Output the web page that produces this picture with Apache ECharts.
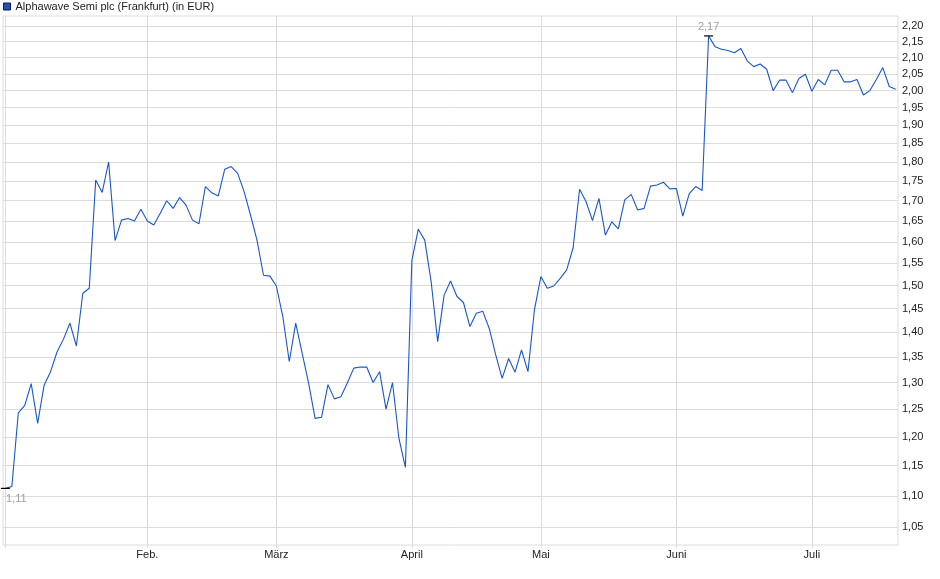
<!DOCTYPE html>
<html>
<head>
<meta charset="utf-8">
<script src="https://cdn.jsdelivr.net/npm/echarts@6/dist/echarts.min.js"></script>
<style>
  html, body { margin: 0; padding: 0; background: #fff; }
  #chart { width: 940px; height: 579px; }
</style>
</head>
<body>
<div id="chart"></div>
<script>
// Trading days (Frankfurt), 2025
const dates = [
  '2025-01-02','2025-01-03','2025-01-06','2025-01-07','2025-01-08','2025-01-09','2025-01-10','2025-01-13','2025-01-14','2025-01-15','2025-01-16','2025-01-17','2025-01-20','2025-01-21','2025-01-22','2025-01-23','2025-01-24','2025-01-27','2025-01-28','2025-01-29','2025-01-30','2025-01-31',
  '2025-02-03','2025-02-04','2025-02-05','2025-02-06','2025-02-07','2025-02-10','2025-02-11','2025-02-12','2025-02-13','2025-02-14','2025-02-17','2025-02-18','2025-02-19','2025-02-20','2025-02-21','2025-02-24','2025-02-25','2025-02-26','2025-02-27','2025-02-28',
  '2025-03-03','2025-03-04','2025-03-05','2025-03-06','2025-03-07','2025-03-10','2025-03-11','2025-03-12','2025-03-13','2025-03-14','2025-03-17','2025-03-18','2025-03-19','2025-03-20','2025-03-21','2025-03-24','2025-03-25','2025-03-26','2025-03-27','2025-03-28','2025-03-31',
  '2025-04-01','2025-04-02','2025-04-03','2025-04-04','2025-04-07','2025-04-08','2025-04-09','2025-04-10','2025-04-11','2025-04-14','2025-04-15','2025-04-16','2025-04-17','2025-04-22','2025-04-23','2025-04-24','2025-04-25','2025-04-28','2025-04-29','2025-04-30',
  '2025-05-02','2025-05-05','2025-05-06','2025-05-07','2025-05-08','2025-05-09','2025-05-12','2025-05-13','2025-05-14','2025-05-15','2025-05-16','2025-05-19','2025-05-20','2025-05-21','2025-05-22','2025-05-23','2025-05-26','2025-05-27','2025-05-28','2025-05-29','2025-05-30',
  '2025-06-02','2025-06-03','2025-06-04','2025-06-05','2025-06-06','2025-06-09','2025-06-10','2025-06-11','2025-06-12','2025-06-13','2025-06-16','2025-06-17','2025-06-18','2025-06-19','2025-06-20','2025-06-23','2025-06-24','2025-06-25','2025-06-26','2025-06-27','2025-06-30',
  '2025-07-01','2025-07-02','2025-07-03','2025-07-04','2025-07-07','2025-07-08','2025-07-09','2025-07-10','2025-07-11','2025-07-14','2025-07-15','2025-07-16','2025-07-17','2025-07-18'
];

// Closing prices in EUR
const prices = [
  1.112,1.115,1.243,1.257,1.298,1.224,1.295,1.321,1.360,1.386,1.419,1.372,1.483,1.494,1.753,1.721,1.800,1.603,1.652,1.656,1.650,1.679,
  1.650,1.640,1.669,1.700,1.681,1.708,1.689,1.652,1.643,1.736,1.720,1.712,1.781,1.788,1.770,1.723,1.664,1.604,1.523,1.521,
  1.499,1.433,1.341,1.419,1.357,1.299,1.233,1.235,1.296,1.269,1.273,1.299,1.328,1.330,1.330,1.300,1.321,1.250,1.300,1.197,1.147,
  1.556,1.630,1.604,1.508,1.381,1.479,1.510,1.476,1.463,1.412,1.440,1.444,1.408,1.354,1.308,1.347,1.320,1.364,1.321,1.447,
  1.520,1.494,1.499,1.516,1.535,1.586,1.729,1.698,1.651,1.706,1.616,1.648,1.631,1.702,1.716,1.677,1.681,1.737,1.740,1.747,1.730,
  1.731,1.662,1.718,1.736,1.726,2.168,2.134,2.126,2.122,2.115,2.128,2.089,2.072,2.080,2.064,2.000,2.031,2.031,1.994,2.036,2.049,
  1.998,2.033,2.017,2.061,2.061,2.026,2.026,2.033,1.987,2.000,2.033,2.069,2.012,2.004
];

// Axis tick labels
const monthNames = ['Jan.','Feb.','März','April','Mai','Juni','Juli'];
const yTicks = [1.05,1.10,1.15,1.20,1.25,1.30,1.35,1.40,1.45,1.50,1.55,1.60,1.65,1.70,1.75,1.80,1.85,1.90,1.95,2.00,2.05,2.10,2.15,2.20];

const seriesName = 'Alphawave Semi plc (Frankfurt) (in EUR)';

// indices of first trading day of each month
const monthStarts = [];
dates.forEach((d, i) => {
  if (i === 0 || d.slice(5, 7) !== dates[i - 1].slice(5, 7)) monthStarts.push(i);
});
const labelTicks = monthStarts.filter(i => i > 0);

const fmt = v => v.toFixed(2).replace('.', ',');
const gridColor = '#dcdcdc';
const font = 'Liberation Sans, Arial, sans-serif';

const chart = echarts.init(document.getElementById('chart'), null, { renderer: 'canvas' });
chart.setOption({
  animation: false,
  backgroundColor: '#ffffff',
  textStyle: { fontFamily: font },
  legend: {
    show: true,
    left: 3,
    top: 1,
    padding: 0,
    itemWidth: 7,
    itemHeight: 7,
    itemGap: 4,
    icon: 'rect',
    textStyle: { fontSize: 11, color: '#222', fontFamily: font },
    data: [{ name: seriesName, itemStyle: { color: '#1f54b8', borderColor: '#0b1d4a', borderWidth: 1 } }]
  },
  grid: {
    left: 3, right: 42, top: 16, bottom: 34,
    show: true, borderColor: gridColor, borderWidth: 1,
    containLabel: false
  },
  xAxis: {
    type: 'value',
    min: -0.372,
    max: 138.357,
    axisLine: { show: false },
    axisTick: { show: true, length: 3, inside: false, lineStyle: { color: gridColor }, customValues: monthStarts },
    splitLine: { show: true, lineStyle: { color: gridColor, width: 1 } },
    axisLabel: {
      customValues: labelTicks,
      color: '#222', fontSize: 11, fontFamily: font, margin: 4,
      formatter: v => monthNames[parseInt(dates[Math.round(v)].slice(5, 7), 10) - 1]
    }
  },
  yAxis: {
    type: 'log',
    logBase: 10,
    position: 'right',
    min: 1.0229,
    max: 2.2327,
    axisLine: { show: false },
    axisTick: { show: false, customValues: yTicks },
    splitLine: { show: true, lineStyle: { color: gridColor, width: 1 } },
    axisLabel: {
      customValues: yTicks,
      color: '#222', fontSize: 11, fontFamily: font, margin: 4,
      formatter: v => fmt(v)
    }
  },
  series: [{
    name: seriesName,
    type: 'line',
    data: prices.map((p, i) => [i, p]),
    showSymbol: false,
    symbol: 'none',
    lineStyle: { color: '#1a57c6', width: 1.1 },
    itemStyle: { color: '#1f54b8' },
    markPoint: {
      symbol: 'rect',
      symbolSize: [9, 1.2],
      itemStyle: { color: '#000' },
      data: [
        { type: 'max', label: { position: 'top', distance: 3, formatter: p => fmt(p.value), color: '#9ca0a8', fontSize: 11, fontFamily: font } },
        { type: 'min', label: { position: 'bottom', distance: 4, offset: [11, 0], formatter: p => fmt(p.value), color: '#9ca0a8', fontSize: 11, fontFamily: font } }
      ]
    }
  }]
});
</script>
</body>
</html>
